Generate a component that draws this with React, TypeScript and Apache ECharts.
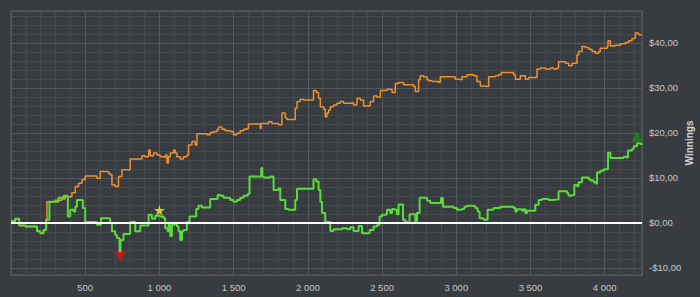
import { useEffect, useRef } from 'react';
import * as echarts from 'echarts';

const X_MIN = 0;
const X_MAX = 4251;
const Y_MIN = -11.6;
const Y_MAX = 47.1;

// Green: current session winnings (step line)
const greenSeries: [number, number][] = [
  [0, 0.4], [28, 0.9], [55, -0.6], [96, -0.8], [175, -1.9], [197, -2.3], [219, -1.6], [237, 0.7], [259, 4.7], [320, 5.6],
  [354, 6.0], [383, 1.4], [399, 2.9], [421, 2.5], [433, 3.6], [444, 5.1], [484, 3.3], [500, 0.2], [579, -0.4], [606, 1.0],
  [668, 0.0], [680, -1.9], [702, -2.7], [714, -3.4], [731, -6.7], [738, -3.8], [758, -2.5], [803, 0.2], [837, -1.9], [871, -0.6],
  [927, 1.8], [949, 0.9], [972, 1.6], [1005, 1.4], [1028, 1.0], [1039, -1.2], [1055, -1.9], [1061, -0.4], [1073, -3.0], [1084, -0.4],
  [1106, 0.0], [1118, -0.8], [1129, -1.9], [1140, -3.8], [1152, -1.9], [1162, -1.6], [1185, 0.2], [1203, 1.4], [1248, 3.1], [1263, 3.8],
  [1286, 3.4], [1342, 5.3], [1392, 6.2], [1410, 6.0], [1432, 5.6], [1455, 5.5], [1477, 5.1], [1499, 4.7], [1522, 5.1], [1544, 5.6],
  [1567, 6.0], [1594, 6.4], [1607, 10.3], [1686, 12.2], [1693, 10.3], [1701, 10.1], [1747, 10.3], [1769, 7.3], [1803, 7.7], [1814, 5.1],
  [1848, 3.1], [1870, 2.9], [1915, 5.1], [1927, 7.6], [2038, 9.7], [2057, 9.2], [2072, 7.3], [2084, 4.7], [2095, 2.2], [2117, 0.2],
  [2151, -1.8], [2173, -1.4], [2230, -1.2], [2263, -1.4], [2286, -1.0], [2308, -1.8], [2342, -0.7], [2365, -2.3], [2416, -1.6], [2443, -0.8],
  [2466, -0.5], [2483, 1.4], [2499, 1.8], [2522, 1.9], [2533, 2.9], [2555, 2.2], [2567, 3.1], [2582, 2.9], [2600, 1.9], [2611, 4.1],
  [2641, 0.7], [2656, 0.2], [2672, 0.0], [2685, 1.9], [2724, 0.2], [2735, 2.2], [2753, 5.6], [2803, 4.9], [2825, 4.4], [2897, 5.5],
  [2910, 3.6], [2982, 3.3], [3005, 2.9], [3038, 3.1], [3054, 3.6], [3072, 3.8], [3106, 3.7], [3128, 3.3], [3144, 2.5], [3157, 1.0],
  [3184, 0.7], [3211, 2.9], [3251, 3.3], [3296, 3.6], [3386, 3.3], [3398, 2.5], [3409, 3.0], [3443, 2.7], [3453, 3.0], [3465, 2.2],
  [3476, 2.7], [3532, 4.0], [3555, 5.1], [3577, 5.3], [3622, 5.1], [3645, 5.2], [3689, 7.0], [3746, 6.6], [3757, 6.0], [3780, 6.2],
  [3795, 8.4], [3813, 8.2], [3824, 9.0], [3847, 10.1], [3891, 9.7], [3903, 9.4], [3925, 9.0], [3943, 8.7], [3948, 11.2], [3970, 11.6],
  [3993, 11.9], [4022, 15.6], [4038, 14.4], [4127, 14.7], [4145, 14.5], [4157, 16.1], [4184, 16.4], [4195, 17.0], [4218, 17.7], [4240, 17.5],
  [4251, 17.3],
];

// Orange: all-in adjusted winnings (step line)
const orangeSeries: [number, number][] = [
  [0, 0.4], [28, 0.9], [55, -0.6], [96, -0.8], [175, -1.9], [197, -2.3], [219, -1.6], [237, 0.7], [242, 4.7], [298, 5.0],
  [343, 5.3], [365, 5.8], [410, 6.7], [433, 8.1], [455, 8.8], [478, 9.6], [500, 10.4], [579, 9.9], [601, 11.4], [657, 11.0],
  [668, 10.7], [680, 8.4], [702, 8.1], [724, 10.3], [747, 11.8], [803, 14.2], [882, 14.9], [904, 14.7], [927, 16.2], [938, 14.9],
  [960, 15.5], [983, 15.1], [1005, 14.7], [1028, 14.6], [1039, 15.1], [1051, 13.3], [1061, 14.7], [1073, 15.5], [1095, 16.2], [1106, 15.5],
  [1118, 14.7], [1140, 14.2], [1162, 14.7], [1185, 15.1], [1196, 17.3], [1219, 18.1], [1241, 17.3], [1253, 19.8], [1320, 19.6], [1342, 20.1],
  [1365, 20.3], [1387, 20.7], [1398, 21.3], [1421, 20.8], [1443, 20.5], [1477, 20.3], [1499, 19.6], [1522, 19.9], [1544, 20.5], [1567, 20.8],
  [1590, 21.0], [1600, 22.0], [1679, 21.0], [1684, 22.1], [1735, 22.5], [1758, 22.1], [1803, 21.8], [1825, 24.4], [1848, 23.3], [1859, 23.0],
  [1915, 25.5], [1927, 27.0], [1949, 27.5], [1971, 27.3], [2038, 29.4], [2057, 29.0], [2072, 27.7], [2084, 25.8], [2106, 25.3], [2117, 23.6],
  [2129, 24.4], [2140, 25.1], [2151, 25.8], [2173, 26.2], [2196, 26.6], [2218, 27.0], [2241, 26.6], [2286, 26.7], [2308, 26.2], [2331, 27.7],
  [2353, 27.3], [2375, 26.0], [2420, 27.0], [2443, 28.2], [2466, 27.9], [2488, 29.4], [2533, 29.7], [2567, 29.0], [2589, 31.0], [2611, 31.2],
  [2645, 30.7], [2712, 30.3], [2724, 29.2], [2746, 31.8], [2757, 32.7], [2780, 32.4], [2803, 31.8], [2813, 31.6], [2836, 31.4], [2881, 31.2],
  [2892, 32.5], [2971, 32.4], [2993, 31.9], [3016, 31.8], [3038, 32.5], [3061, 32.4], [3072, 32.9], [3094, 33.0], [3117, 32.7], [3139, 31.4],
  [3162, 30.4], [3184, 30.3], [3218, 32.5], [3263, 32.7], [3285, 32.9], [3303, 33.4], [3386, 32.9], [3398, 31.9], [3431, 32.7], [3465, 31.9],
  [3487, 32.3], [3544, 34.2], [3566, 34.4], [3600, 34.2], [3633, 34.4], [3656, 34.2], [3679, 34.4], [3689, 35.8], [3735, 35.5], [3757, 34.9],
  [3780, 35.5], [3813, 37.3], [3824, 38.1], [3847, 39.2], [3869, 39.0], [3891, 38.6], [3914, 38.1], [3937, 37.7], [3959, 38.1], [3970, 38.8],
  [4016, 39.2], [4022, 40.5], [4038, 39.3], [4071, 39.5], [4105, 39.8], [4139, 40.1], [4161, 40.5], [4184, 41.0], [4206, 42.2], [4228, 41.8],
  [4251, 41.8],
];

const lowMarker: [number, number][] = [[735, -7.5]];
const highMarker: [number, number][] = [[4218, 19.2]];
const starMarker: [number, number][] = [[1000, 2.8]];

const STAR_PATH = 'path://M50,0 L61,35 L98,35 L68,57 L79,91 L50,70 L21,91 L32,57 L2,35 L39,35 Z';

const fmtMoney = (v: number) => {
  if (Math.abs(v - Math.round(v / 10) * 10) > 1e-6) return '';
  const r = Math.round(v);
  const s = Math.abs(r).toFixed(2).replace('.', ',');
  return (r < 0 ? '-$' : '$') + s;
};

const fmtX = (v: number) => {
  if (v === 0 || Math.abs(v % 500) > 1e-6) return '';
  return v >= 1000 ? `${Math.floor(v / 1000)} ${String(v % 1000).padStart(3, '0')}` : String(v);
};

export default function App() {
  const ref = useRef<HTMLDivElement>(null);
  useEffect(() => {
    document.body.style.margin = '0';
    const chart = echarts.init(ref.current!, null, { renderer: 'svg' });
    const labelFont = { color: '#c8c8c8', fontSize: 9.5, fontFamily: 'Liberation Sans, Arial, sans-serif' };
    chart.setOption({
      animation: false,
      backgroundColor: '#383b3f',
      grid: {
        left: 11, right: 58, top: 11, bottom: 22,
        show: true, borderColor: '#5c5f63', borderWidth: 1,
        outerBoundsMode: 'none',
      },
      xAxis: [
        {
          type: 'value', position: 'bottom', offset: 0, min: X_MIN, max: X_MAX, interval: 100, z: 1,
          axisLine: { show: false },
          axisTick: { show: true, length: 3, lineStyle: { color: '#5c5f63' } },
          axisLabel: { show: false },
          splitLine: { show: true, lineStyle: { color: '#45484c', width: 1 } },
        },
        {
          type: 'value', position: 'bottom', offset: 0, min: X_MIN, max: X_MAX, interval: 500, z: 2,
          axisLine: { show: false },
          axisTick: { show: false },
          axisLabel: { ...labelFont, formatter: fmtX, margin: 7 },
          splitLine: { show: true, lineStyle: { color: '#55585c', width: 1 } },
        },
      ],
      yAxis: [
        {
          type: 'value', position: 'right', offset: 0, min: Y_MIN, max: Y_MAX, splitNumber: 30, z: 1,
          axisLine: { show: false },
          axisTick: { show: true, length: 3, lineStyle: { color: '#5c5f63' } },
          axisLabel: { show: false },
          splitLine: { show: true, lineStyle: { color: '#45484c', width: 1 } },
        },
        {
          type: 'value', position: 'right', offset: 0, min: Y_MIN, max: Y_MAX, splitNumber: 5, z: 2,
          axisLine: { show: false },
          axisTick: { show: false },
          axisLabel: { ...labelFont, formatter: fmtMoney, margin: 7 },
          splitLine: { show: true, lineStyle: { color: '#55585c', width: 1 } },
          name: 'Winnings', nameLocation: 'middle', nameRotate: 90, nameGap: 42, nameMoveOverlap: false,
          nameTextStyle: { color: '#d4d4d4', fontSize: 10, fontWeight: 'bold', fontFamily: 'Liberation Sans, Arial, sans-serif' },
        },
      ],
      series: [
        {
          type: 'line', name: 'adjusted', data: orangeSeries, step: 'end', showSymbol: false, symbol: 'none', z: 3,
          lineStyle: { color: '#ec922f', width: 1.5 },
        },
        {
          type: 'line', name: 'winnings', data: greenSeries, step: 'end', showSymbol: false, symbol: 'none', z: 4,
          lineStyle: { color: '#58dc3a', width: 2 },
          markLine: {
            silent: true, symbol: ['none', 'none'], label: { show: false },
            lineStyle: { color: '#ffffff', width: 2, type: 'solid' },
            data: [{ yAxis: 0 }],
          },
        },
        {
          type: 'scatter', data: lowMarker, symbol: 'triangle', symbolRotate: 180, symbolSize: [11, 9], z: 6,
          itemStyle: { color: '#e30c0c' },
        },
        {
          type: 'scatter', data: highMarker, symbol: 'triangle', symbolSize: [12, 10], z: 6,
          itemStyle: { color: '#168a16' },
        },
        {
          type: 'scatter', data: starMarker, symbol: STAR_PATH, symbolSize: 11, z: 6,
          itemStyle: { color: '#fbec1c' },
        },
      ],
    });
    return () => chart.dispose();
  }, []);
  return <div ref={ref} style={{ width: 700, height: 297 }} />;
}
